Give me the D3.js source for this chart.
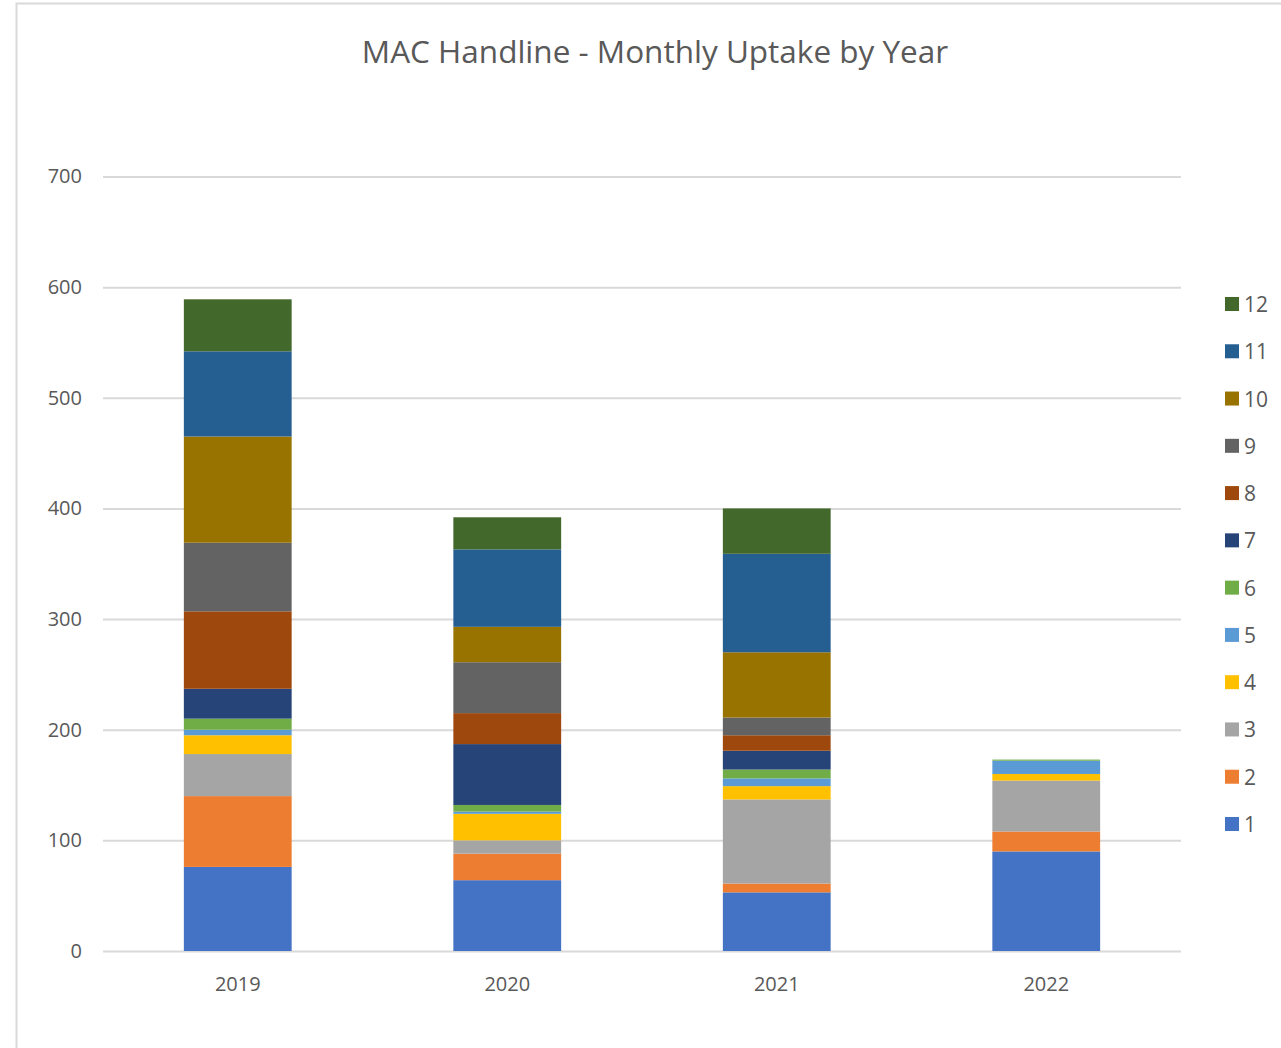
<!DOCTYPE html>
<html>
<head>
<meta charset="utf-8">
<script src="https://cdn.jsdelivr.net/npm/d3@7"></script>
<style>
  body { margin: 0; background: #fff; }
  svg { display: block; }
</style>
</head>
<body>
<svg width="1281" height="1048"></svg>
<script>
// chart data
const years = ["2019", "2020", "2021", "2022"];
const months = ["1", "2", "3", "4", "5", "6", "7", "8", "9", "10", "11", "12"];
const m1  = [76, 64, 53, 90];
const m2  = [64, 24, 8, 18];
const m3  = [38, 12, 76, 46];
const m4  = [17, 24, 12, 6];
const m5  = [5, 2, 7, 12];
const m6  = [10, 6, 8, 1];
const m7  = [27, 55, 17, 0];
const m8  = [70, 28, 14, 0];
const m9  = [62, 46, 16, 0];
const m10 = [96, 32, 59, 0];
const m11 = [77, 70, 89, 0];
const m12 = [47, 29, 41, 0];
const yTicks = [0, 100, 200, 300, 400, 500, 600, 700];
const colors = ["#4472C4", "#ED7D31", "#A5A5A5", "#FFC000", "#5B9BD5", "#70AD47",
                "#264478", "#9E480E", "#636363", "#997300", "#255E91", "#43682B"];

const series = [m1, m2, m3, m4, m5, m6, m7, m8, m9, m10, m11, m12];
const table = years.map((yr, i) => {
  const row = { year: yr };
  months.forEach((m, j) => { row[m] = series[j][i]; });
  return row;
});

const svg = d3.select("svg");
const font = "'Open Sans', 'Liberation Sans', sans-serif";
const textCol = "#595959";

// outer frame
svg.append("rect")
   .attr("x", 16.5).attr("y", 3.5)
   .attr("width", 1300).attr("height", 1100)
   .attr("fill", "#fff")
   .attr("stroke", "#d9d9d9")
   .attr("stroke-width", 2);

const plotLeft = 103, plotRight = 1181, plotTop = 176.5, plotBottom = 951;

const x = d3.scaleBand()
            .domain(years)
            .range([plotLeft, plotRight])
            .paddingInner(0.6)
            .paddingOuter(0.3);

const y = d3.scaleLinear()
            .domain([0, 700])
            .range([plotBottom, plotTop]);

// gridlines
const yAxis = d3.axisLeft(y)
                .tickValues(yTicks)
                .tickSize(-(plotRight - plotLeft))
                .tickPadding(21)
                .tickFormat(d3.format("d"));

const gy = svg.append("g")
   .attr("transform", "translate(" + plotLeft + ",0)")
   .call(yAxis);
gy.select(".domain").remove();
gy.selectAll(".tick line").attr("stroke", "#d9d9d9").attr("stroke-width", 2);
gy.selectAll(".tick text")
  .attr("fill", textCol)
  .style("font-family", font)
  .style("font-size", "20px");

// stacked bars
const stack = d3.stack().keys(months);
const layers = stack(table);

svg.append("g")
   .selectAll("g")
   .data(layers)
   .enter()
   .append("g")
   .attr("fill", (d, i) => colors[i])
   .selectAll("rect")
   .data(d => d)
   .enter()
   .append("rect")
   .attr("x", d => x(d.data.year))
   .attr("width", x.bandwidth())
   .attr("y", d => y(d[1]))
   .attr("height", d => y(d[0]) - y(d[1]));

// x axis labels
const xAxis = d3.axisBottom(x).tickSize(0).tickPadding(26);
const gx = svg.append("g")
   .attr("transform", "translate(0," + plotBottom + ")")
   .call(xAxis);
gx.select(".domain").remove();
gx.selectAll(".tick text")
  .attr("fill", textCol)
  .style("font-family", font)
  .style("font-size", "20px");

// title
svg.append("text")
   .attr("x", 655)
   .attr("y", 63)
   .attr("text-anchor", "middle")
   .attr("fill", textCol)
   .style("font-family", font)
   .style("font-size", "31.5px")
   .text("MAC Handline - Monthly Uptake by Year");

// legend (12 on top)
const legendY = d3.scalePoint()
                  .domain(months.slice().reverse())
                  .range([304, 824]);

const lg = svg.append("g")
   .selectAll("g")
   .data(months)
   .enter()
   .append("g")
   .attr("transform", d => "translate(1225," + legendY(d) + ")");

lg.append("rect")
  .attr("x", 0).attr("y", -7)
  .attr("width", 14).attr("height", 14)
  .attr("fill", (d, i) => colors[i]);

lg.append("text")
  .attr("x", 19)
  .attr("y", 8)
  .attr("fill", textCol)
  .style("font-family", font)
  .style("font-size", "21px")
  .text(d => d);
</script>
</body>
</html>
